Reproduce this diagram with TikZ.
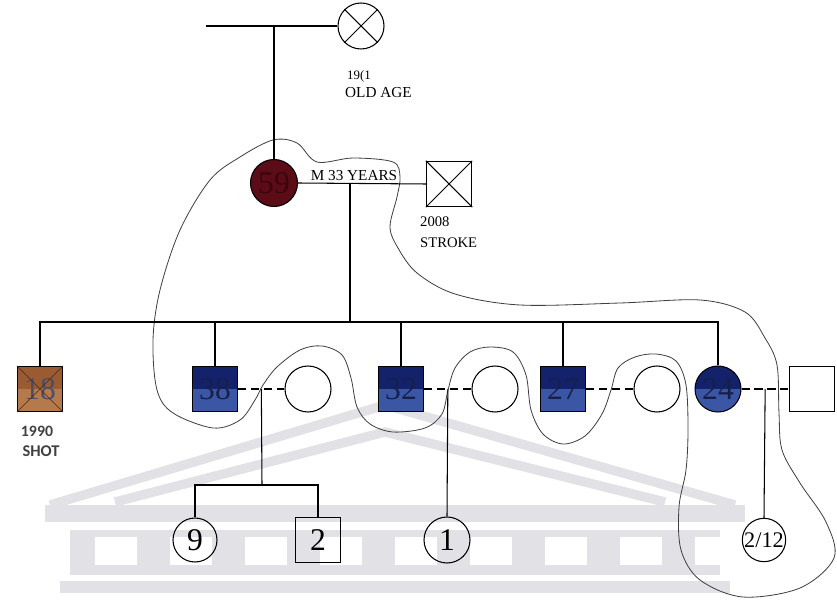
\documentclass[tikz,border=0pt]{standalone}
\usepackage{fontspec}
\setmainfont{Liberation Serif}
\newfontfamily\calibri{Carlito}
\usetikzlibrary{calc}

\definecolor{mumred}{HTML}{5C0C16}
\definecolor{mumtext}{HTML}{3A060B}
\definecolor{shotbrown}{HTML}{9A5A32}
\definecolor{shotlight}{HTML}{B57A4C}
\definecolor{sibblue}{HTML}{14226C}
\definecolor{sibbluelight}{HTML}{3C56A6}
\definecolor{sibtext}{HTML}{16204A}
\definecolor{wmgray}{HTML}{E2E2E6}

\tikzset{
  male/.style={draw, rectangle, minimum size=1.36cm, inner sep=0pt, line width=0.9pt},
  female/.style={draw, circle, minimum size=1.38cm, inner sep=0pt, line width=0.9pt},
  kid/.style={font=\fontsize{27}{27}\selectfont},
  twotone/.style 2 args={fill=#1, path picture={
      \fill[#2] (path picture bounding box.west) rectangle (path picture bounding box.south east);}},
  tie/.style={line width=0.9pt},
  marr/.style={line width=0.9pt, dash pattern=on 7pt off 4pt},
  hh/.style={line width=0.7pt, black!75},
  note/.style={font=\fontsize{12.5}{13}\selectfont, anchor=west, inner sep=0pt},
  wmline/.style={wmgray, line width=8pt},
}

\begin{document}
\begin{tikzpicture}[x=0.03cm,y=-0.03cm]
\useasboundingbox (0,0) rectangle (837,601);

% watermark in the back
\draw[wmline] (50,505) -- (385,405) -- (735,505);
\draw[wmline] (115,502) -- (385,432) -- (665,502);
\fill[wmgray] (45,505) rectangle (745,522);
\fill[wmgray] (70,530) rectangle (720,575);
\foreach \x in {95,170,...,695}
  \fill[white] (\x,537) rectangle ++(42,28);
\fill[wmgray] (60,581) rectangle (730,593);

% household boundary
\draw[hh] plot[smooth cycle, tension=0.55] coordinates {
  (153,340) (157,390) (173,413) (213,428) (240,420) (255,400) (263,385)
  (277,367) (300,350) (322,346) (342,355) (351,378) (357,407) (370,424)
  (393,432) (425,428) (442,414) (448,390) (455,368) (470,352) (490,347)
  (513,352) (526,375) (531,410) (543,434) (563,444) (585,436) (602,414)
  (611,390) (618,368) (635,357) (656,354) (676,361) (686,385) (688,430)
  (686,470) (679,507) (681,550) (700,580) (743,597) (800,588) (834,558)
  (826,522) (800,483) (782,450) (779,413) (777,365) (765,338) (745,312)
  (700,300) (620,303) (520,305) (455,294) (417,273) (398,248) (390,227)
  (397,197) (400,177) (393,162) (353,158) (317,162) (297,143) (273,140)
  (240,157) (210,180) (180,230) (160,290)};

% grandparents
\coordinate (gpl) at (206,26);
\coordinate (gpd) at (274,26);
\node[female] (gm) at (361,26) {};
\draw[tie] (gm.north west) -- (gm.south east) (gm.north east) -- (gm.south west);
\node[note, font=\fontsize{11}{11}\selectfont] (gmyear) at (347,76) {19(1};
\node[note, font=\fontsize{13}{13}\selectfont] (gmwhy) at (345,93) {OLD AGE};
\draw[tie] (gpl) -- (gm.west);

% parents
\node[female, minimum size=1.41cm, fill=mumred, text=mumtext, kid] (mum) at (274,183) {59};
\node[male] (dad) at (449,184) {};
\draw[tie] (dad.north west) -- (dad.south east) (dad.north east) -- (dad.south west);
\draw[tie] (gpd) -- (mum.north);
\draw[tie] (mum.east) -- (dad.west);
\node[font=\fontsize{13}{13}\selectfont, anchor=south, inner sep=1.5pt] (years) at (354,183) {M 33 YEARS};
\node[note] (dadyear) at (420,222) {2008};
\node[note] (dadwhy) at (420,243) {STROKE};

% siblings
\coordinate (marr) at (350,184);
\coordinate (sib) at (350,322);
\node[male, twotone={shotbrown}{shotlight}, text=black!70!blue!40!gray, kid] (b18) at (40,389) {18};
\draw[line width=0.6pt, black!65!brown] (b18.north west) -- (b18.south east) (b18.north east) -- (b18.south west);
\node[male, twotone={sibblue}{sibbluelight}, text=sibtext, kid] (s38) at (215,389) {38};
\node[female] (w38) at (308,389) {};
\node[male, twotone={sibblue}{sibbluelight}, text=sibtext, kid] (s32) at (401,389) {32};
\node[female] (w32) at (495,389) {};
\node[male, twotone={sibblue}{sibbluelight}, text=sibtext, kid] (s27) at (563,389) {27};
\node[female] (w27) at (657,389) {};
\node[female, twotone={sibblue}{sibbluelight}, text=sibtext, kid] (d24) at (718,389) {24};
\node[male] (h24) at (812,389) {};

\draw[tie] (marr) -- (sib);
\draw[tie] (b18.north) |- (sib) -| (d24.north);
\draw[tie] (s38.north) -- (s38.north |- sib);
\draw[tie] (s32.north) -- (s32.north |- sib);
\draw[tie] (s27.north) -- (s27.north |- sib);

\node[font=\calibri\bfseries\fontsize{13.5}{14}\selectfont, text=black!75] (shotyear) at (37,431) {1990};
\node[font=\calibri\bfseries\fontsize{14}{14}\selectfont, text=black!75] (shotwhy) at (41,451) {SHOT};

% couples
\draw[marr] (s38.east) -- (w38.west);
\draw[marr] (s32.east) -- (w32.west);
\draw[marr] (s27.east) -- (w27.west);
\draw[marr] (d24.east) -- (h24.west);
\coordinate (m38) at ($(s38.east)!0.5!(w38.west)$);
\coordinate (m32) at ($(s32.east)!0.5!(w32.west)$);
\coordinate (m24) at ($(d24.east)!0.5!(h24.west)$);

% grandchildren
\node[female, minimum size=1.32cm, kid] (c9) at (195,540) {9};
\node[male, minimum size=1.36cm, kid] (c2) at (318,540) {2};
\node[female, kid] (c1) at (447,540) {1};
\node[female, minimum size=1.3cm, font=\fontsize{19}{19}\selectfont] (c212) at (764,540) {2/12};
\coordinate (k38) at (262,485);
\draw[tie] (m38) -- (k38);
\draw[tie] (c9.north) |- (k38) -| (c2.north);
\draw[tie] (m32) -- (c1.north);
\draw[tie] (m24) -- (c212.north);
\end{tikzpicture}
\end{document}
